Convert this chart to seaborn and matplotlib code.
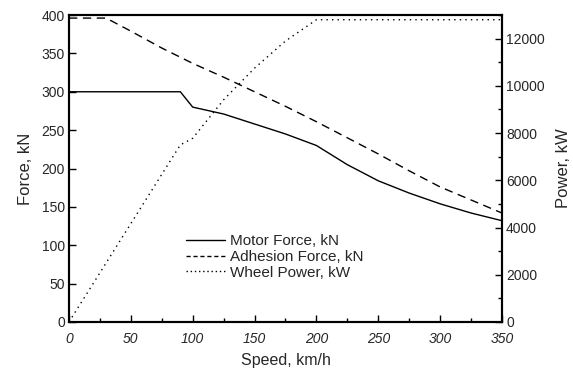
import matplotlib
matplotlib.use("Agg")
import matplotlib.pyplot as plt
import seaborn as sns
import pandas as pd
from matplotlib.lines import Line2D
from matplotlib.ticker import MultipleLocator

# Data
motor_speed = [0, 90, 100, 125, 150, 175, 200, 225, 250, 275, 300, 325, 350]
motor_force = [300, 300, 280, 271, 258, 245, 230, 205, 184, 168, 154, 142, 132]

adh_speed = [0, 30, 50, 75, 100, 125, 150, 175, 200, 225, 250, 275, 300, 325, 350]
adh_force = [396, 396, 379, 357, 337, 319, 300, 281, 261, 240, 219, 197, 176, 159, 142]

power_speed = [0, 90, 100, 125, 150, 175, 200, 250, 300, 350]
wheel_power = [0, 7500, 7780, 9410, 10750, 11900, 12800, 12800, 12800, 12800]

x_ticks = [0, 50, 100, 150, 200, 250, 300, 350]
left_ticks = [0, 50, 100, 150, 200, 250, 300, 350, 400]
right_ticks = [0, 2000, 4000, 6000, 8000, 10000, 12000]

sns.set_style("ticks")
plt.rcParams['font.family'] = ['Liberation Sans', 'DejaVu Sans']

fig = plt.figure(figsize=(5.73, 3.69), dpi=100)
ax = fig.add_axes([0.1204, 0.1274, 0.7556, 0.8319])
ax2 = ax.twinx()

df_m = pd.DataFrame({"speed": motor_speed, "force": motor_force})
df_a = pd.DataFrame({"speed": adh_speed, "force": adh_force})
df_p = pd.DataFrame({"speed": power_speed, "power": wheel_power})

sns.lineplot(data=df_m, x="speed", y="force", ax=ax, color="black", lw=1.0, sort=False)
sns.lineplot(data=df_a, x="speed", y="force", ax=ax, color="black", lw=1.0, sort=False,
             linestyle=(0, (6, 4)))
sns.lineplot(data=df_p, x="speed", y="power", ax=ax2, color="black", lw=1.0, sort=False,
             linestyle=(0, (1, 3)))

ax.set_xlim(0, 350)
ax.set_ylim(0, 400)
ax2.set_ylim(0, 13000)

ax.set_xticks(x_ticks)
ax.set_xticklabels([str(t) for t in x_ticks], style="italic", fontsize=10)
ax.xaxis.set_minor_locator(MultipleLocator(25))
ax.set_yticks(left_ticks)
ax.set_yticklabels([str(t) for t in left_ticks], fontsize=10)
ax2.set_yticks(right_ticks)
ax2.set_yticklabels([str(t) for t in right_ticks], fontsize=10)
ax2.yaxis.set_minor_locator(MultipleLocator(1000))

for a in (ax, ax2):
    a.tick_params(which="major", direction="in", length=5, width=1, color="black", pad=3)
    a.tick_params(which="minor", direction="in", length=3, width=1, color="black")
    for s in a.spines.values():
        s.set_linewidth(1.5)
        s.set_color("black")
        s.set_visible(True)
ax.tick_params(axis="x", which="major", pad=7)
ax.tick_params(axis="y", which="both", right=False)
ax2.tick_params(axis="y", which="both", left=False)

ax.set_xlabel("Speed, km/h", fontsize=11.5, labelpad=5)
ax.set_ylabel("Force, kN", fontsize=12, labelpad=6)
ax2.set_ylabel("Power, kW", fontsize=12, labelpad=8)

handles = [
    Line2D([], [], color="black", lw=1.0),
    Line2D([], [], color="black", lw=1.0, linestyle=(0, (3, 2))),
    Line2D([], [], color="black", lw=1.0, linestyle=(0, (1, 2))),
]
labels = ["Motor Force, kN", "Adhesion Force, kN", "Wheel Power, kW"]
ax.legend(handles, labels, loc="upper left", bbox_to_anchor=(0.245, 0.32),
          frameon=False, fontsize=11, handlelength=2.6, handletextpad=0.3,
          labelspacing=0.1, borderpad=0.2)

fig.savefig("out.png", dpi=100)
